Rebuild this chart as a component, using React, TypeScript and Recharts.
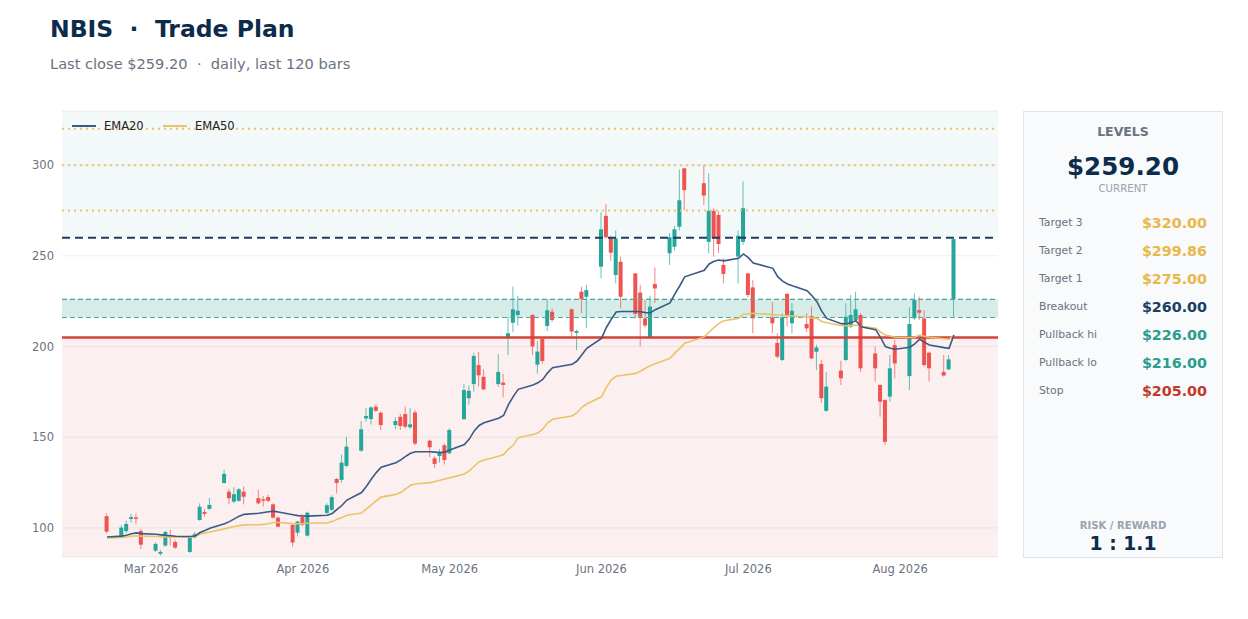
import React from 'react';
import {
  ComposedChart,
  Bar,
  Line,
  XAxis,
  YAxis,
  CartesianGrid,
  ReferenceArea,
  ReferenceLine,
} from 'recharts';

// trading days per month (2026), holidays already left out
const FEB_DAYS = [20, 23, 24, 25, 26, 27];
const MAR_DAYS = [2, 3, 4, 5, 6, 9, 10, 11, 12, 13, 16, 17, 18, 19, 20, 23, 24, 25, 26, 27, 30, 31];
const APR_DAYS = [1, 2, 6, 7, 8, 9, 10, 13, 14, 15, 16, 17, 20, 21, 22, 23, 24, 27, 28, 29, 30];
const MAY_DAYS = [1, 4, 5, 6, 7, 8, 11, 12, 13, 14, 15, 18, 19, 20, 21, 22, 26, 27, 28, 29];
const JUN_DAYS = [1, 2, 3, 4, 5, 8, 9, 10, 11, 12, 15, 16, 17, 18, 22, 23, 24, 25, 26, 29, 30];
const JUL_DAYS = [1, 2, 6, 7, 8, 9, 10, 13, 14, 15, 16, 17, 20, 21, 22, 23, 24, 27, 28, 29, 30, 31];
const AUG_DAYS = [3, 4, 5, 6, 7, 10, 11, 12];

const OPEN = [
  106.5, 95.6, 98.3, 105, 105.8, 98.3,
  87.5, 85.8, 90.3, 96, 92.3, 86.8, 94.8, 104.4, 108.8, 110.5, 124.8, 120, 114.5, 115, 120, 116.4, 115.8, 117, 113, 105.7, 101.7, 97.4,
  106, 95.8, 108.3, 110, 127, 126.5, 134.2, 142.6, 160.4, 160, 166.8, 163.5, 156.7, 161.3, 162.8, 155.5, 163.7, 148.1, 138.4, 139.7, 145.6,
  141.2, 160, 171.5, 179.3, 189.8, 183.3, 179.3, 180.1, 204.6, 213.1, 217.4, 217.4, 190, 204.2, 211.3, 219.2, 220.5, 207.5, 230.2, 227.4,
  244, 272, 260.2, 239.4, 246.7, 240.3, 229.7, 215.5, 205.1, 234.4, 251.4, 255, 266, 298.2, 290, 257.7, 274.8, 272.5, 245, 249.6, 257.7,
  240.3, 232.6, 216, 202, 192.6, 229, 212.8, 212.4, 216.8, 197.1, 190.4, 164.6, 186.7, 192.6, 211, 214.6, 217.4, 196.2, 178.8, 170.5, 172.4, 200.8,
  183.7, 215.5, 220.1, 215.5, 196.6, 186, 187.4, 226,
];
const HIGH = [
  108, 101.5, 104, 107.7, 108, 99.5,
  92, 88, 98.5, 99, 93.5, 95.5, 97.8, 113.5, 110.5, 116.5, 132, 121.5, 122.5, 122, 123, 121, 117.6, 118.3, 113.6, 106.3, 102.6, 104,
  107.6, 109, 113.6, 118, 127.5, 140.5, 150.3, 159, 166, 167.2, 168, 164.2, 161, 163, 167, 166, 165, 148.5, 139.5, 143.5, 146.5,
  155, 179.3, 178.5, 196.5, 197, 187.5, 195.8, 185, 216.4, 233, 228, 218, 203, 205, 226, 221, 221, 209.3, 233, 234,
  274, 278.5, 261, 264, 249.6, 240.5, 234, 225.6, 228, 243.6, 262.5, 266.5, 297.5, 298.5, 300, 295.5, 276.2, 274.5, 248.6, 264, 291,
  240.5, 236.6, 224.7, 207.3, 218.3, 229.5, 224, 218.3, 222, 201, 192.6, 186, 192.2, 223.8, 228.4, 230.2, 218.3, 200, 179.2, 171, 195.3, 203.6,
  221.6, 229.3, 227.4, 220, 197.2, 195.3, 195.3, 259.5,
];
const LOW = [
  97, 95, 97, 103, 102, 88.5,
  86.8, 84.8, 89.7, 90.5, 88.4, 86.3, 94.3, 104, 106.3, 110, 124.3, 113, 113.8, 114.5, 113, 113, 111.8, 114.3, 105.2, 100.3, 89.8, 95.3,
  101, 95.3, 107.6, 109.5, 119, 125, 133.5, 142, 158.5, 157, 164, 154, 154.5, 154, 155, 154.5, 145.6, 139, 133.2, 136, 135,
  140.5, 159.5, 168, 175.2, 178, 176, 177.8, 172, 195.3, 208, 211.5, 195.3, 185, 190.5, 208.5, 213.5, 205.5, 198, 218.5, 210,
  237.6, 259.5, 247.3, 234.8, 221, 215.5, 200, 210.5, 205, 224, 245, 253, 264, 275, 278, 251.4, 249.6, 251.5, 234.8, 234.8, 256,
  227, 207.3, 207.3, 193.5, 192, 211, 207.3, 208, 193, 187, 169, 164, 178.8, 192, 210, 213.7, 186, 180.6, 161.3, 145.7, 169.6, 182.5,
  176, 214.6, 214.6, 189, 180.6, 183.4, 187, 216.4,
];
const CLOSE = [
  98, 100.2, 102.2, 106, 105, 90.8,
  91.2, 86.8, 97.8, 95.2, 89.2, 94.7, 96.6, 111.7, 107.8, 112.7, 129.8, 116.4, 118.6, 121.3, 117.2, 113.6, 115, 115, 105.7, 100.7, 92, 103.5,
  101.7, 108.4, 112.5, 117, 124.8, 136, 144.8, 154.4, 161.7, 166.4, 164.6, 156.7, 159, 156.2, 155.8, 157.1, 146.5, 144.5, 135.3, 141.2, 137.5,
  154, 176, 175.6, 194.8, 184.1, 176.4, 186, 178.8, 207.3, 220.5, 219.7, 200, 197.2, 192, 220, 214.6, 208.3, 208.5, 226.2, 231.1,
  264.6, 260.2, 251.7, 259.6, 227.4, 218, 216.4, 211.6, 222, 232, 260.2, 264.6, 280.6, 286.2, 283.2, 274.8, 259.6, 256.5, 240, 261, 276.2,
  228.4, 215.5, 212.8, 194.4, 216.1, 216.8, 219.7, 210, 193.5, 199.5, 171.5, 177.9, 182.5, 216.4, 217.4, 220.5, 188, 188, 169.6, 147.5, 188, 190.7,
  212.4, 225.6, 218.6, 189.8, 188, 184, 192.9, 259.2,
];
const EMA20 = [
  95.0, 95.5, 96.0, 96.8, 97.3, 96.9,
  96.5, 96.2, 95.9, 95.7, 95.4, 95.3, 95.6, 97.5, 98.6, 99.8, 102.3, 103.5, 105.0, 106.5, 107.5, 108.1, 108.5, 108.9, 109.3, 108.8, 107.3, 106.8,
  106.6, 106.5, 107.0, 108.0, 110.3, 112.5, 115.4, 119.5, 123.0, 127.0, 130.5, 133.5, 136.0, 137.5, 139.5, 141.2, 142.0, 142.0, 141.8, 141.5, 141.8,
  143.0, 146.0, 149.0, 153.5, 156.5, 158.0, 160.5, 162.0, 168.0, 172.5, 176.4, 178.8, 180.0, 181.9, 185.5, 188.3, 190.2, 192.0, 195.5, 199.0,
  204.5, 210.5, 215.0, 219.0, 219.3, 219.3, 219.2, 218.7, 218.6, 220.3, 224.0, 229.0, 233.5, 238.4, 242.0, 245.5, 247.0, 247.7, 247.2, 248.6, 251.0,
  249.0, 246.0, 243.1, 238.5, 236.0, 234.5, 233.5, 230.8, 228.0, 224.7, 219.5, 215.5, 212.6, 212.4, 213.2, 214.2, 210.9, 209.3, 205.0, 200.0, 199.0, 198.5,
  199.6, 201.5, 204.0, 202.3, 200.8, 199.4, 199.0, 206.3,
];
const EMA50 = [
  94.5, 94.8, 95.0, 95.4, 95.7, 95.5,
  95.3, 95.2, 95.1, 95.0, 94.9, 94.9, 95.2, 96.5, 97.2, 97.8, 99.5, 100.2, 100.8, 101.3, 101.7, 101.8, 102.0, 102.3, 103.0, 103.0, 102.4, 102.3,
  102.4, 102.6, 102.8, 103.5, 104.8, 105.8, 107.0, 108.2, 110.5, 112.7, 115.0, 117.0, 118.5, 119.5, 121.5, 123.5, 124.2, 125.0, 125.6, 126.3, 127.0,
  127.6, 129.8, 131.5, 134.0, 136.5, 137.5, 139.5, 140.5, 143.5, 145.7, 149.8, 151.5, 152.3, 154.5, 158.0, 159.9, 161.7, 163.5, 166.5, 168.3,
  172.3, 177.5, 181.5, 183.7, 184.0, 185.2, 186.5, 188.0, 189.5, 190.5, 193.5, 196.5, 199.0, 201.8, 205.3, 208.0, 210.5, 212.8, 214.2, 215.5, 217.9,
  218.0, 218.3, 217.6, 217.4, 217.2, 217.0, 216.8, 216.3, 215.8, 215.5, 213.8, 213.1, 211.6, 211.5, 211.6, 211.8, 211.2, 210.0, 208.0, 206.3, 205.8, 205.1,
  205.0, 205.1, 206.3, 205.6, 205.1, 204.3, 204.0, 206.3,
];

const LEVEL_NAMES = ['Target 3', 'Target 2', 'Target 1', 'Breakout', 'Pullback hi', 'Pullback lo', 'Stop'];
const LEVEL_PRICES = [320, 299.86, 275, 260, 226, 216, 205];
const LAST_CLOSE = 259.2;
const RISK_REWARD = '1 : 1.1';

const MONTH_LABELS = ['Mar 2026', 'Apr 2026', 'May 2026', 'Jun 2026', 'Jul 2026', 'Aug 2026'];
const Y_TICKS = [100, 150, 200, 250, 300];

const DAY_MS = 86400000;
const toDay = (month: number, day: number) => Date.UTC(2026, month, day) / DAY_MS;

const DATES = [
  ...FEB_DAYS.map((d) => toDay(1, d)),
  ...MAR_DAYS.map((d) => toDay(2, d)),
  ...APR_DAYS.map((d) => toDay(3, d)),
  ...MAY_DAYS.map((d) => toDay(4, d)),
  ...JUN_DAYS.map((d) => toDay(5, d)),
  ...JUL_DAYS.map((d) => toDay(6, d)),
  ...AUG_DAYS.map((d) => toDay(7, d)),
];
const MONTH_TICKS = MONTH_LABELS.map((_, i) => toDay(i + 2, 1));

const data = DATES.map((t, i) => ({
  t,
  open: OPEN[i],
  high: HIGH[i],
  low: LOW[i],
  close: CLOSE[i],
  range: [LOW[i], HIGH[i]],
  ema20: EMA20[i],
  ema50: EMA50[i],
}));

const UP = '#26a69a';
const DOWN = '#ef5350';
const GOLD = '#e9c46a';
const NAVY = '#1b3d66';
const TEAL = '#2a9d8f';
const RED = '#d2433a';
const FONT = '"DejaVu Sans", Verdana, sans-serif';

const LEVEL_COLORS = ['#e8b84a', '#e8b84a', '#e8b84a', NAVY, TEAL, TEAL, '#c0392b'];

// candlestick drawn inside the [low, high] range bar
function Candle(props: any) {
  const { x, y, width, height, payload } = props;
  if (x == null || y == null || !payload) return null;
  const { open, close, high, low } = payload;
  const top = Math.min(y, y + height);
  const h = Math.abs(height);
  const k = h / (high - low || 1);
  const cx = x + width / 2;
  const color = close >= open ? UP : DOWN;
  const bodyTop = top + (high - Math.max(open, close)) * k;
  const bodyH = Math.max(1, Math.abs(close - open) * k);
  return (
    <g>
      <line x1={cx} x2={cx} y1={top} y2={top + h} stroke={color} strokeOpacity={0.7} strokeWidth={1} />
      <rect x={cx - 2} y={bodyTop} width={4} height={bodyH} fill={color} />
    </g>
  );
}

function LevelsPanel() {
  return (
    <div
      style={{
        position: 'absolute',
        left: 1023,
        top: 111,
        width: 198,
        height: 445,
        background: '#f8fafc',
        border: '1px solid #dde4eb',
        fontFamily: FONT,
      }}
    >
      <div style={{ position: 'absolute', top: 14, width: '100%', textAlign: 'center', fontSize: 12.5, lineHeight: '12.5px', fontWeight: 700, color: '#6b7280' }}>
        LEVELS
      </div>
      <div style={{ position: 'absolute', top: 43, width: '100%', textAlign: 'center', fontSize: 24.6, lineHeight: '24.6px', fontWeight: 700, color: '#0c2c4c' }}>
        ${LAST_CLOSE.toFixed(2)}
      </div>
      <div style={{ position: 'absolute', top: 72, width: '100%', textAlign: 'center', fontSize: 10.2, lineHeight: '10.2px', color: '#9aa3ae' }}>
        CURRENT
      </div>
      {LEVEL_NAMES.map((name, i) => (
        <div key={name} style={{ position: 'absolute', top: 104 + i * 28, left: 15, right: 15, height: 16 }}>
          <span style={{ position: 'absolute', left: 0, top: 2, fontSize: 10.8, lineHeight: '10.8px', color: '#6b7280' }}>{name}</span>
          <span style={{ position: 'absolute', right: 0, top: 0, fontSize: 14.3, lineHeight: '14.3px', fontWeight: 700, color: LEVEL_COLORS[i] }}>
            ${LEVEL_PRICES[i].toFixed(2)}
          </span>
        </div>
      ))}
      <div style={{ position: 'absolute', top: 409, width: '100%', textAlign: 'center', fontSize: 10.1, lineHeight: '10.1px', fontWeight: 700, color: '#9aa3ae' }}>
        RISK / REWARD
      </div>
      <div style={{ position: 'absolute', top: 423, width: '100%', textAlign: 'center', fontSize: 18.8, lineHeight: '18.8px', fontWeight: 700, color: '#0c2c4c' }}>
        {RISK_REWARD}
      </div>
    </div>
  );
}

export default function App() {
  const yDomain: [number, number] = [84, 329.8];
  const xDomain: [number, number] = [DATES[0] - 9.2, DATES[DATES.length - 1] + 9];

  return (
    <div style={{ position: 'absolute', left: 0, top: 0, width: 1248, height: 619, background: '#fff', fontFamily: FONT }}>
      <div style={{ position: 'absolute', left: 50, top: 18, fontSize: 23.5, lineHeight: '23.5px', fontWeight: 700, color: '#0c2c4c', whiteSpace: 'pre' }}>
        {'NBIS  ·  Trade Plan'}
      </div>
      <div style={{ position: 'absolute', left: 50, top: 56.5, fontSize: 14.6, lineHeight: '14.6px', color: '#6b7280', whiteSpace: 'pre' }}>
        {`Last close $${LAST_CLOSE.toFixed(2)}  ·  daily, last ${DATES.length} bars`}
      </div>

      <div style={{ position: 'absolute', left: 0, top: 0 }}>
        <ComposedChart width={1000} height={600} data={data} margin={{ top: 111, right: 2, bottom: 13, left: 12 }}>
          <CartesianGrid horizontal vertical={false} stroke="#eceff2" />
          <ReferenceArea y1={yDomain[0]} y2={LEVEL_PRICES[6]} fill="#e49b94" fillOpacity={0.15} stroke="none" ifOverflow="hidden" />
          <ReferenceArea y1={LEVEL_PRICES[3]} y2={yDomain[1]} fill="#afd0d0" fillOpacity={0.15} stroke="none" ifOverflow="hidden" />
          <ReferenceArea y1={LEVEL_PRICES[5]} y2={LEVEL_PRICES[4]} fill="#32a08c" fillOpacity={0.2} stroke="none" />
          <XAxis
            type="number"
            dataKey="t"
            domain={xDomain}
            allowDataOverflow
            ticks={MONTH_TICKS}
            tickFormatter={(v) => MONTH_LABELS[MONTH_TICKS.indexOf(v)] ?? ''}
            axisLine={false}
            tickLine={false}
            height={30}
            tick={{ fontSize: 11.5, fill: '#6b7280', fontFamily: FONT }}
          />
          <YAxis
            type="number"
            domain={yDomain}
            allowDataOverflow
            ticks={Y_TICKS}
            axisLine={false}
            tickLine={false}
            width={50}
            tick={{ fontSize: 11.5, fill: '#6b7280', fontFamily: FONT }}
          />
          {LEVEL_PRICES.slice(0, 3).map((p) => (
            <ReferenceLine key={p} y={p} stroke={GOLD} strokeWidth={2} strokeDasharray="2 4" />
          ))}
          <ReferenceLine y={LEVEL_PRICES[3]} stroke={NAVY} strokeWidth={2} strokeDasharray="8 5" />
          <ReferenceLine y={LEVEL_PRICES[4]} stroke="#4aa99c" strokeWidth={1.2} strokeDasharray="5 3" />
          <ReferenceLine y={LEVEL_PRICES[5]} stroke="#4aa99c" strokeWidth={1.2} strokeDasharray="5 3" />
          <ReferenceLine y={LEVEL_PRICES[6]} stroke={RED} strokeWidth={2.5} />
          <Line type="linear" dataKey="ema50" stroke={GOLD} strokeWidth={1.6} dot={false} isAnimationActive={false} />
          <Line type="linear" dataKey="ema20" stroke="#3a5a85" strokeWidth={1.6} dot={false} isAnimationActive={false} />
          <Bar dataKey="range" barSize={4} shape={<Candle />} isAnimationActive={false} />
        </ComposedChart>
      </div>

      <div style={{ position: 'absolute', left: 72, top: 120, fontSize: 11.5, lineHeight: '12px', color: '#222', display: 'flex', alignItems: 'center' }}>
        <span style={{ display: 'inline-block', width: 24, height: 2, background: '#3a5a85' }} />
        <span style={{ marginLeft: 8, width: 59 }}>EMA20</span>
        <span style={{ display: 'inline-block', width: 24, height: 2, background: GOLD }} />
        <span style={{ marginLeft: 8 }}>EMA50</span>
      </div>

      <LevelsPanel />
    </div>
  );
}
